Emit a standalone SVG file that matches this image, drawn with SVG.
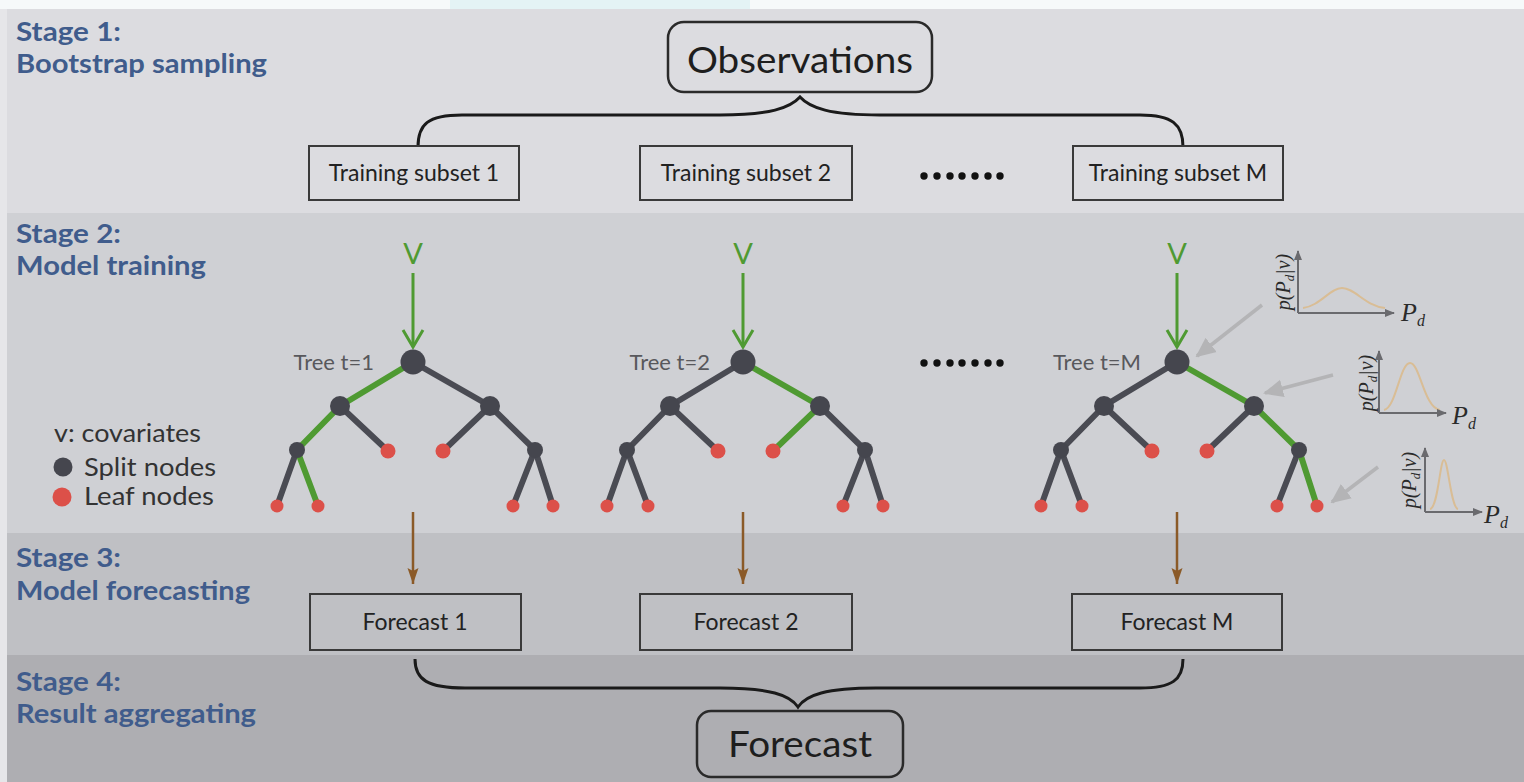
<svg xmlns="http://www.w3.org/2000/svg" width="1524" height="782" viewBox="0 0 1524 782">
<defs>
<style>
.stage{font-family:Lato,"Open Sans",sans-serif;font-weight:700;font-size:27px;fill:#405c8c}
.box{fill:none;stroke:#3a3a3a;stroke-width:2}
.rbox{fill:none;stroke:#2a2a2a;stroke-width:2.5}
.lbl{font-family:Lato,"Open Sans",sans-serif;font-size:23px;fill:#222;text-anchor:middle}
.big{font-family:Lato,"Open Sans",sans-serif;font-size:36px;fill:#1e1e1e;text-anchor:middle}
.edge{stroke:#4a4b53;stroke-width:6;stroke-linecap:round}
.gedge{stroke:#4f9a32;stroke-width:6;stroke-linecap:round}
.split{fill:#45464e}
.leaf{fill:#dc5049}
.tree{font-family:Lato,"Open Sans",sans-serif;font-size:22px;fill:#58585c;text-anchor:end}
.vlab{font-family:Lato,"Open Sans",sans-serif;font-size:29px;fill:#4f9a32;text-anchor:middle}
.garrow{stroke:#4f9a32;stroke-width:3;fill:none}
.barrow{stroke:#8b5a28;stroke-width:2.5;fill:none}
.brace{fill:none;stroke:#1a1a1a;stroke-width:3}
.ptr{stroke:#b4b4b6;stroke-width:3.5;fill:none}
.axis{stroke:#6a6a6e;stroke-width:2;fill:none}
.pdf{stroke:#d9bd95;stroke-width:2;fill:none}
.math{font-family:"Liberation Serif",serif;font-style:italic;fill:#2a2a2a}
.leg{font-family:Lato,"Open Sans",sans-serif;font-size:25px;fill:#333}
.dot{fill:#111}
</style>
<marker id="mg" markerUnits="userSpaceOnUse" viewBox="-2 -12 22 24" markerWidth="22" markerHeight="24" refX="17" refY="0" orient="auto">
<path d="M0,-10 L17,0 L0,10" fill="none" stroke="#4f9a32" stroke-width="3"/>
</marker>
<marker id="mb" markerUnits="userSpaceOnUse" viewBox="0 -6 16 12" markerWidth="16" markerHeight="12" refX="16" refY="0" orient="auto">
<path d="M0,-5.5 L16,0 L0,5.5 L3,0 Z" fill="#8b5a28"/>
</marker>
<marker id="mp" markerUnits="userSpaceOnUse" viewBox="0 -10 20 20" markerWidth="20" markerHeight="20" refX="18" refY="0" orient="auto">
<path d="M0,-9 L20,0 L0,9 Z" fill="#b4b4b6"/>
</marker>
<marker id="ma" markerUnits="userSpaceOnUse" viewBox="0 -5 10 10" markerWidth="10" markerHeight="10" refX="9" refY="0" orient="auto">
<path d="M0,-4 L10,0 L0,4 Z" fill="#6a6a6e"/>
</marker>
</defs>

<g id="background">
<rect x="0" y="0" width="1524" height="782" fill="#f6f9fa"/>
<rect x="450" y="0" width="300" height="9" fill="#e4f3f5"/>
<rect x="7" y="9" width="1517" height="204" fill="#dcdce0"/>
<rect x="7" y="213" width="1517" height="320" fill="#cfd0d4"/>
<rect x="7" y="533" width="1517" height="122" fill="#bfc0c4"/>
<rect x="7" y="655" width="1517" height="127" fill="#aeaeb2"/>
<rect x="0" y="9" width="7" height="773" fill="#e6e6e9"/>
</g>

<g id="stage-labels">
<text class="stage" x="16" y="41" textLength="105" lengthAdjust="spacingAndGlyphs">Stage 1:</text>
<text class="stage" x="16" y="73" textLength="251" lengthAdjust="spacingAndGlyphs">Bootstrap sampling</text>
<text class="stage" x="16" y="243" textLength="105" lengthAdjust="spacingAndGlyphs">Stage 2:</text>
<text class="stage" x="16" y="275" textLength="190" lengthAdjust="spacingAndGlyphs">Model training</text>
<text class="stage" x="16" y="567" textLength="105" lengthAdjust="spacingAndGlyphs">Stage 3:</text>
<text class="stage" x="16" y="600" textLength="234" lengthAdjust="spacingAndGlyphs">Model forecasting</text>
<text class="stage" x="16" y="691" textLength="105" lengthAdjust="spacingAndGlyphs">Stage 4:</text>
<text class="stage" x="16" y="723" textLength="240" lengthAdjust="spacingAndGlyphs">Result aggregating</text>
</g>

<g id="connectors">
<path class="brace" d="M418,147 C418,124 428,115 462,115 L720,115 C770,115 790,108 800,97 C810,108 830,115 880,115 L1140,115 C1172,115 1183,124 1183,147"/>
<path class="brace" d="M415,659 C415,680 428,688 465,688 L720,688 C770,688 790,695 798,707 C806,695 826,688 876,688 L1140,688 C1172,688 1183,680 1183,659"/>
<line class="garrow" x1="413" y1="273" x2="413" y2="347" marker-end="url(#mg)"/>
<line class="garrow" x1="743" y1="273" x2="743" y2="347" marker-end="url(#mg)"/>
<line class="garrow" x1="1177" y1="273" x2="1177" y2="347" marker-end="url(#mg)"/>
<line class="barrow" x1="413" y1="512" x2="413" y2="584" marker-end="url(#mb)"/>
<line class="barrow" x1="743" y1="512" x2="743" y2="584" marker-end="url(#mb)"/>
<line class="barrow" x1="1177" y1="512" x2="1177" y2="584" marker-end="url(#mb)"/>
<line class="ptr" x1="1262" y1="305" x2="1197" y2="356" marker-end="url(#mp)"/>
<line class="ptr" x1="1333" y1="375" x2="1265" y2="393" marker-end="url(#mp)"/>
<line class="ptr" x1="1378" y1="467" x2="1332" y2="502" marker-end="url(#mp)"/>
</g>

<g id="observations">
<rect class="rbox" x="668" y="22" width="264" height="70" rx="16"/>
<text class="big" x="800" y="73" textLength="226" lengthAdjust="spacingAndGlyphs">Observations</text>
</g>

<g id="training-subset-1">
<rect class="box" x="309" y="146" width="210" height="54"/>
<text class="lbl" x="414" y="181">Training subset 1</text>
</g>
<g id="training-subset-2">
<rect class="box" x="640" y="146" width="212" height="54"/>
<text class="lbl" x="746" y="181">Training subset 2</text>
</g>
<g id="training-subset-M">
<rect class="box" x="1073" y="146" width="210" height="54"/>
<text class="lbl" x="1178" y="181">Training subset M</text>
</g>
<g id="ellipsis-1">
<circle class="dot" cx="924" cy="176" r="3.7"/><circle class="dot" cx="937" cy="176" r="3.7"/><circle class="dot" cx="950" cy="176" r="3.7"/><circle class="dot" cx="962" cy="176" r="3.7"/><circle class="dot" cx="975" cy="176" r="3.7"/><circle class="dot" cx="988" cy="176" r="3.7"/><circle class="dot" cx="1000" cy="176" r="3.7"/>
</g>

<g id="tree-1">
<text class="vlab" x="413" y="264">V</text>
<text class="tree" x="374" y="370">Tree t=1</text>
<g transform="translate(413,362)">
<line class="edge" x1="0" y1="0" x2="77" y2="44"/>
<line class="edge" x1="-73" y1="44" x2="-25" y2="89"/>
<line class="edge" x1="77" y1="44" x2="30" y2="89"/>
<line class="edge" x1="77" y1="44" x2="122" y2="88"/>
<line class="edge" x1="-116" y1="88" x2="-136" y2="144"/>
<line class="edge" x1="122" y1="88" x2="100" y2="144"/>
<line class="edge" x1="122" y1="88" x2="140" y2="144"/>
<line class="gedge" x1="0" y1="0" x2="-73" y2="44"/>
<line class="gedge" x1="-73" y1="44" x2="-116" y2="88"/>
<line class="gedge" x1="-116" y1="88" x2="-95" y2="144"/>
<circle class="split" cx="0" cy="0" r="12.5"/>
<circle class="split" cx="-73" cy="44" r="10"/>
<circle class="split" cx="77" cy="44" r="10"/>
<circle class="split" cx="-116" cy="88" r="8"/>
<circle class="split" cx="122" cy="88" r="8"/>
<circle class="leaf" cx="-25" cy="89" r="7.5"/>
<circle class="leaf" cx="30" cy="89" r="7.5"/>
<circle class="leaf" cx="-136" cy="144" r="6.5"/>
<circle class="leaf" cx="-95" cy="144" r="6.5"/>
<circle class="leaf" cx="100" cy="144" r="6.5"/>
<circle class="leaf" cx="140" cy="144" r="6.5"/>
</g>
</g>

<g id="tree-2">
<text class="vlab" x="743" y="264">V</text>
<text class="tree" x="710" y="370">Tree t=2</text>
<g transform="translate(743,362)">
<line class="edge" x1="0" y1="0" x2="-73" y2="44"/>
<line class="edge" x1="-73" y1="44" x2="-116" y2="88"/>
<line class="edge" x1="-73" y1="44" x2="-25" y2="89"/>
<line class="edge" x1="77" y1="44" x2="122" y2="88"/>
<line class="edge" x1="-116" y1="88" x2="-136" y2="144"/>
<line class="edge" x1="-116" y1="88" x2="-95" y2="144"/>
<line class="edge" x1="122" y1="88" x2="100" y2="144"/>
<line class="edge" x1="122" y1="88" x2="140" y2="144"/>
<line class="gedge" x1="0" y1="0" x2="77" y2="44"/>
<line class="gedge" x1="77" y1="44" x2="30" y2="89"/>
<circle class="split" cx="0" cy="0" r="12.5"/>
<circle class="split" cx="-73" cy="44" r="10"/>
<circle class="split" cx="77" cy="44" r="10"/>
<circle class="split" cx="-116" cy="88" r="8"/>
<circle class="split" cx="122" cy="88" r="8"/>
<circle class="leaf" cx="-25" cy="89" r="7.5"/>
<circle class="leaf" cx="30" cy="89" r="7.5"/>
<circle class="leaf" cx="-136" cy="144" r="6.5"/>
<circle class="leaf" cx="-95" cy="144" r="6.5"/>
<circle class="leaf" cx="100" cy="144" r="6.5"/>
<circle class="leaf" cx="140" cy="144" r="6.5"/>
</g>
</g>

<g id="ellipsis-2">
<circle class="dot" cx="924" cy="363" r="3.7"/><circle class="dot" cx="937" cy="363" r="3.7"/><circle class="dot" cx="950" cy="363" r="3.7"/><circle class="dot" cx="962" cy="363" r="3.7"/><circle class="dot" cx="975" cy="363" r="3.7"/><circle class="dot" cx="988" cy="363" r="3.7"/><circle class="dot" cx="1000" cy="363" r="3.7"/>
</g>

<g id="tree-M">
<text class="vlab" x="1177" y="264">V</text>
<text class="tree" x="1141" y="370">Tree t=M</text>
<g transform="translate(1177,362)">
<line class="edge" x1="0" y1="0" x2="-73" y2="44"/>
<line class="edge" x1="-73" y1="44" x2="-116" y2="88"/>
<line class="edge" x1="-73" y1="44" x2="-25" y2="89"/>
<line class="edge" x1="77" y1="44" x2="30" y2="89"/>
<line class="edge" x1="-116" y1="88" x2="-136" y2="144"/>
<line class="edge" x1="-116" y1="88" x2="-95" y2="144"/>
<line class="edge" x1="122" y1="88" x2="100" y2="144"/>
<line class="gedge" x1="0" y1="0" x2="77" y2="44"/>
<line class="gedge" x1="77" y1="44" x2="122" y2="88"/>
<line class="gedge" x1="122" y1="88" x2="140" y2="144"/>
<circle class="split" cx="0" cy="0" r="12.5"/>
<circle class="split" cx="-73" cy="44" r="10"/>
<circle class="split" cx="77" cy="44" r="10"/>
<circle class="split" cx="-116" cy="88" r="8"/>
<circle class="split" cx="122" cy="88" r="8"/>
<circle class="leaf" cx="-25" cy="89" r="7.5"/>
<circle class="leaf" cx="30" cy="89" r="7.5"/>
<circle class="leaf" cx="-136" cy="144" r="6.5"/>
<circle class="leaf" cx="-95" cy="144" r="6.5"/>
<circle class="leaf" cx="100" cy="144" r="6.5"/>
<circle class="leaf" cx="140" cy="144" r="6.5"/>
</g>
</g>

<g id="legend">
<text class="leg" x="54" y="442" textLength="147" lengthAdjust="spacingAndGlyphs">v: covariates</text>
<circle class="split" cx="63" cy="467" r="9.5"/>
<text class="leg" x="84" y="476" textLength="132" lengthAdjust="spacingAndGlyphs">Split nodes</text>
<circle class="leaf" cx="62" cy="497" r="9.5"/>
<text class="leg" x="84" y="505" textLength="130" lengthAdjust="spacingAndGlyphs">Leaf nodes</text>
</g>

<g id="chart-root">
<path class="pdf" d="M1303,308 C1320,306 1330,288 1342,288 C1355,288 1365,306 1385,308"/>
<line class="axis" x1="1298" y1="313" x2="1298" y2="251" marker-end="url(#ma)"/>
<line class="axis" x1="1298" y1="313" x2="1394" y2="313" marker-end="url(#ma)"/>
<text class="math" x="1401" y="321" font-size="26">P<tspan font-size="16" dy="5">d</tspan></text>
<text class="math" font-size="20" text-anchor="middle" transform="translate(1290,282) rotate(-90)">p(P<tspan font-size="13" dy="4">d</tspan><tspan dy="-4">|v)</tspan></text>
</g>

<g id="chart-split">
<path class="pdf" d="M1384,410 C1396,408 1400,363 1410,363 C1420,363 1424,408 1440,410"/>
<line class="axis" x1="1379" y1="413" x2="1379" y2="351" marker-end="url(#ma)"/>
<line class="axis" x1="1379" y1="413" x2="1446" y2="413" marker-end="url(#ma)"/>
<text class="math" x="1452" y="424" font-size="26">P<tspan font-size="16" dy="5">d</tspan></text>
<text class="math" font-size="20" text-anchor="middle" transform="translate(1373,383) rotate(-90)">p(P<tspan font-size="13" dy="4">d</tspan><tspan dy="-4">|v)</tspan></text>
</g>

<g id="chart-leaf">
<path class="pdf" d="M1430,509 C1438,508 1440,460 1444,460 C1448,460 1451,508 1458,509"/>
<line class="axis" x1="1425" y1="512" x2="1425" y2="448" marker-end="url(#ma)"/>
<line class="axis" x1="1425" y1="512" x2="1482" y2="512" marker-end="url(#ma)"/>
<text class="math" x="1484" y="523" font-size="26">P<tspan font-size="16" dy="5">d</tspan></text>
<text class="math" font-size="20" text-anchor="middle" transform="translate(1416,480) rotate(-90)">p(P<tspan font-size="13" dy="4">d</tspan><tspan dy="-4">|v)</tspan></text>
</g>

<g id="forecast-1">
<rect class="box" x="310" y="594" width="211" height="56"/>
<text class="lbl" x="415" y="630">Forecast 1</text>
</g>
<g id="forecast-2">
<rect class="box" x="640" y="594" width="212" height="56"/>
<text class="lbl" x="746" y="630">Forecast 2</text>
</g>
<g id="forecast-M">
<rect class="box" x="1072" y="594" width="210" height="56"/>
<text class="lbl" x="1177" y="630">Forecast M</text>
</g>

<g id="forecast-final">
<rect class="rbox" x="697" y="711" width="206" height="66" rx="14"/>
<text class="big" x="800" y="757" textLength="144" lengthAdjust="spacingAndGlyphs">Forecast</text>
</g>
</svg>
